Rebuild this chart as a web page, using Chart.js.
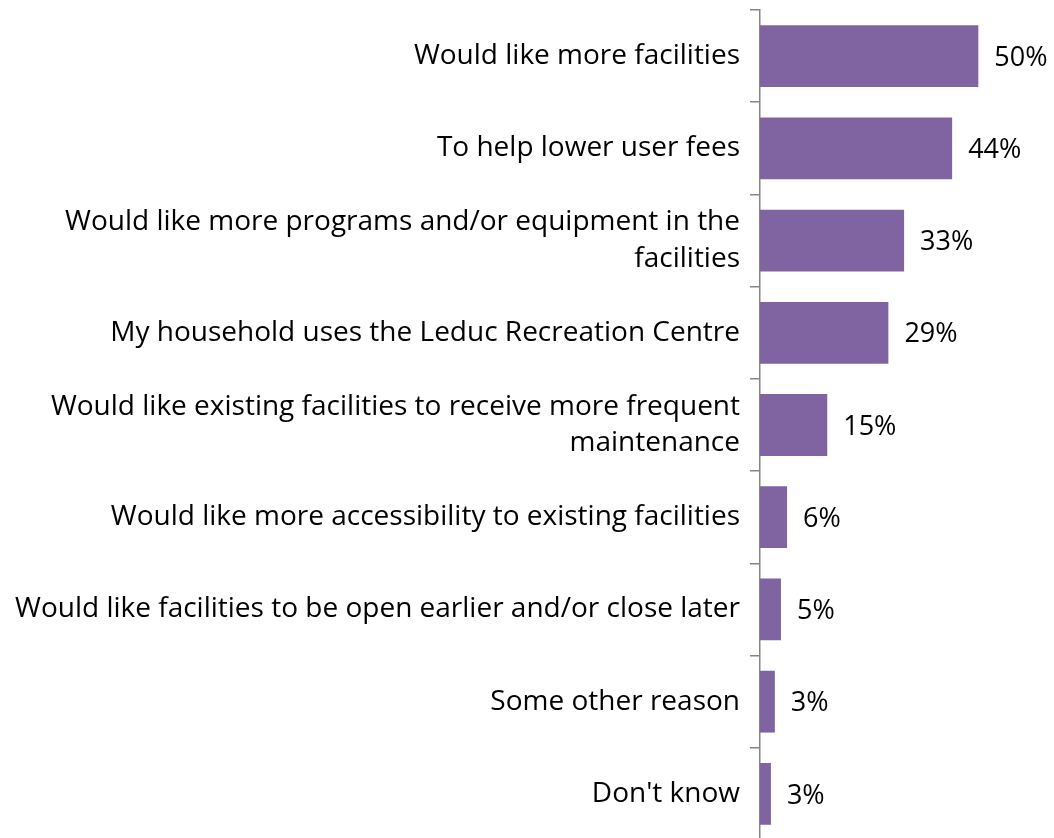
<!DOCTYPE html>
<html><head><meta charset="utf-8">
<script src="https://cdn.jsdelivr.net/npm/chart.js@4/dist/chart.umd.min.js"></script>
<style>html,body{margin:0;padding:0;background:#fff;overflow:hidden}#wrap{width:1054px;height:842px;position:relative}</style>
</head><body><div id="wrap"><canvas id="c"></canvas></div>
<script>
const categories = [
  "Would like more facilities",
  "To help lower user fees",
  ["Would like more programs and/or equipment in the", "facilities"],
  "My household uses the Leduc Recreation Centre",
  ["Would like existing facilities to receive more frequent", "maintenance"],
  "Would like more accessibility to existing facilities",
  "Would like facilities to be open earlier and/or close later",
  "Some other reason",
  "Don't know"
];
const values = [50, 44, 33, 29.4, 15.4, 6.2, 4.8, 3.4, 2.5];
const valueLabels = ["50%", "44%", "33%", "29%", "15%", "6%", "5%", "3%", "3%"];

const FONT = "'Open Sans', Lato, sans-serif";
const FSIZE = 28;

const labelPlugin = {
  id: 'barLabels',
  afterDatasetsDraw(chart) {
    const ctx = chart.ctx;
    const meta = chart.getDatasetMeta(0);
    ctx.save();
    ctx.font = "27px " + FONT;
    ctx.fillStyle = "#000";
    ctx.textAlign = "left";
    ctx.textBaseline = "middle";
    meta.data.forEach((bar, i) => {
      ctx.fillText(valueLabels[i], bar.x + 16, bar.y + 2);
    });
    ctx.restore();
  }
};

new Chart(document.getElementById('c'), {
  type: 'bar',
  data: {
    labels: categories,
    datasets: [{
      data: values,
      backgroundColor: '#8064A2',
      borderWidth: 0,
      categoryPercentage: 1,
      barPercentage: 0.67
    }]
  },
  options: {
    indexAxis: 'y',
    responsive: true,
    maintainAspectRatio: false,
    animation: false,
    layout: { padding: { top: 10, right: 32, bottom: 2, left: 0 } },
    plugins: { legend: { display: false }, tooltip: { enabled: false } },
    scales: {
      x: { display: false, min: 0, max: 60 },
      y: {
        afterFit(scale) { scale.width = 760; scale.paddingTop = 0; scale.paddingBottom = 0; },
        border: { display: true, color: '#868686', width: 1.5 },
        grid: { display: true, drawOnChartArea: false, drawTicks: true, tickLength: 10, color: '#868686', lineWidth: 1.5, offset: true },
        ticks: { color: '#000', font: { family: FONT, size: FSIZE, lineHeight: 1.29 }, padding: 10, autoSkip: false }
      }
    }
  },
  plugins: [labelPlugin]
});
</script></body></html>
